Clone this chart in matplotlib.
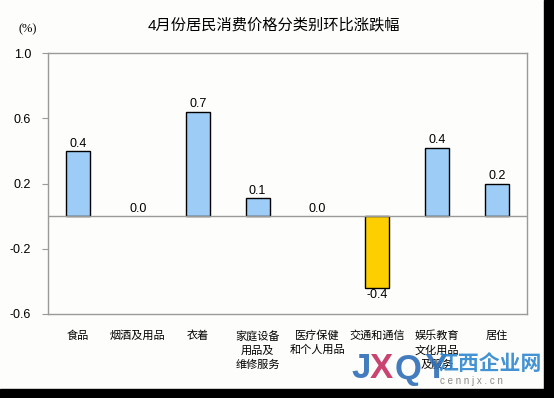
import matplotlib.pyplot as plt
from matplotlib.patches import Rectangle

plt.rcParams["font.family"] = ["Liberation Sans", "Noto Sans CJK SC", "DejaVu Sans"]

categories = ["食品", "烟酒及用品", "衣着", "家庭设备\n用品及\n维修服务",
              "医疗保健\n和个人用品", "交通和通信", "娱乐教育\n文化用品\n及服务", "居住"]
values = [0.40, 0.0, 0.64, 0.11, 0.0, -0.44, 0.42, 0.20]
value_labels = ["0.4", "0.0", "0.7", "0.1", "0.0", "-0.4", "0.4", "0.2"]
y_ticks = [-0.6, -0.2, 0.2, 0.6, 1.0]

BLUE = "#9dcdf7"
YELLOW = "#fdcf00"
GRAY = "#9a9a9a"

W, H = 554, 398
fig = plt.figure(figsize=(W / 100, H / 100), dpi=100, facecolor="#fdfefb")
ax = fig.add_axes([48 / W, 1 - 314 / H, (527 - 48) / W, (314 - 53) / H])
ax.set_facecolor("#fdfefb")

x = list(range(len(categories)))
colors = [YELLOW if v < 0 else BLUE for v in values]
edges = ["none" if v == 0 else "black" for v in values]
ax.bar(x, values, width=0.4, color=colors, edgecolor=edges, linewidth=1.0, zorder=3)

for xi, v, lab in zip(x, values, value_labels):
    if v < 0:
        ax.text(xi, v - 0.008, lab, ha="center", va="top", fontsize=9)
    else:
        ax.text(xi, v + 0.008, lab, ha="center", va="bottom", fontsize=9)

ax.axhline(0, color=GRAY, linewidth=1.0, zorder=4)
ax.set_xlim(-0.5, len(categories) - 0.5)
ax.set_ylim(-0.6, 1.0)
ax.set_yticks(y_ticks)
ax.set_yticklabels([f"{t:.1f}" for t in y_ticks], fontsize=9)
ax.set_xticks(x)
ax.set_xticklabels(categories, fontsize=8, linespacing=1.45, va="top", ha="center")
ax.tick_params(axis="x", length=0, pad=12)
ax.tick_params(axis="y", length=4, color=GRAY, pad=8)
for s in ax.spines.values():
    s.set_color(GRAY)
    s.set_linewidth(1.0)

fig.text(274 / W, 1 - 25 / H, "4月份居民消费价格分类别环比涨跌幅", ha="center", va="center", fontsize=11)
fig.text(28 / W, 1 - 29 / H, "(%)", ha="center", va="center", fontsize=9,
         family=["Liberation Serif", "DejaVu Serif"])

# watermark
wm = [("J", 351, "#2f6fb8"), ("X", 370, "#c43062"), ("Q", 395, "#2f6fb8"), ("Y", 424, "#2f6fb8")]
for ch, px, col in wm:
    fig.text(px / W, 1 - 369 / H, ch, color=col, fontsize=25, fontweight="bold", va="center", alpha=0.9)
fig.text(437 / W, 1 - 364 / H, "江西企业网", color="#2f86d0", fontsize=15, fontweight="bold", va="center",
         family=["Noto Sans CJK SC"], alpha=0.9)
fig.text(440 / W, 1 - 381 / H, "c e n n j x . c n", color="#8a8a8a", fontsize=7, va="center")

# dark frame at right and bottom
fig.patches.append(Rectangle((544 / W, 0), 10 / W, 1, transform=fig.transFigure, color="black", zorder=10))
fig.patches.append(Rectangle((0, 0), 1, 9 / H, transform=fig.transFigure, color="black", zorder=10))

fig.savefig("out.png", dpi=100, facecolor=fig.get_facecolor())
